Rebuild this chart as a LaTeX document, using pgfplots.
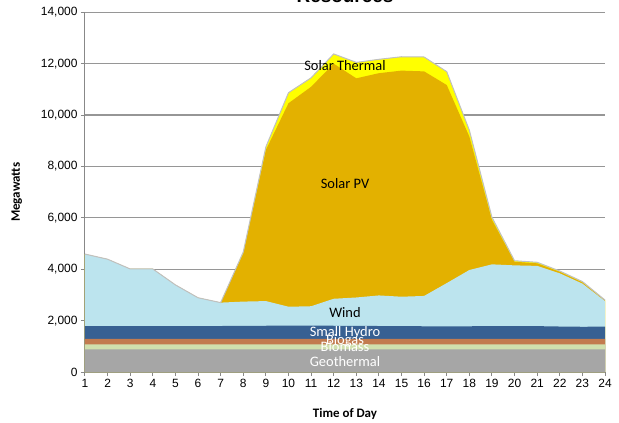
\documentclass[border=0pt]{standalone}
\usepackage{pgfplots}
\pgfplotsset{compat=1.18}
\usepackage{pgfplotstable}
\usepackage{fontspec}
\setmainfont{Liberation Sans}
\newfontfamily\calfont{Carlito}
\definecolor{cgeo}{HTML}{A6A6A6}
\definecolor{cbm}{HTML}{D0E0AE}
\definecolor{cbg}{HTML}{C27B4F}
\definecolor{chy}{HTML}{376092}
\definecolor{cwind}{HTML}{BCE4EE}
\definecolor{cpv}{HTML}{E3B100}
\definecolor{cst}{HTML}{FFFF00}
\definecolor{cgrid}{HTML}{969696}
\definecolor{caxis}{HTML}{888888}
\definecolor{cedge}{HTML}{C0C0C0}
\pgfplotstableread{
h geo bm bg hy wind pv st
1 880 200 210 500 2800 0 0
2 880 200 210 500 2600 0 0
3 880 200 210 500 2220 0 0
4 880 200 210 500 2220 0 0
5 880 200 210 495 1605 0 0
6 880 200 210 495 1105 0 0
7 880 200 210 500 910 0 0
8 880 200 210 505 945 1880 50
9 880 200 210 510 960 5880 120
10 880 200 210 515 735 7920 410
11 880 200 210 515 755 8540 350
12 880 200 210 510 1050 9150 380
13 880 200 210 505 1105 8530 620
14 880 200 210 500 1190 8650 540
15 880 200 210 495 1145 8800 540
16 880 200 210 490 1180 8740 560
17 880 200 210 490 1680 7710 520
18 880 200 210 490 2190 5190 250
19 880 200 210 495 2405 1730 100
20 880 200 210 500 2360 140 40
21 880 200 210 495 2345 100 40
22 880 200 210 480 2070 60 30
23 880 200 210 470 1680 50 30
24 880 200 210 475 995 30 10
}\data
\begin{document}
\begin{tikzpicture}
\begin{axis}[
  scale only axis, width=520bp, height=359.7bp,
  xmin=1, xmax=24, ymin=0, ymax=14000,
  xtick={1,...,24}, ytick={0,2000,...,14000},
  scaled y ticks=false,
  yticklabel style={/pgf/number format/.cd, 1000 sep={,}, assume math mode=true},
  xticklabel style={/pgf/number format/assume math mode=true},
  tick label style={font=\fontsize{12}{14}\selectfont, color=black},
  axis lines*=left,
  axis line style={color=caxis, line width=1bp},
  tick style={color=caxis, line width=1bp},
  tick align=outside, major tick length=4bp,
  ymajorgrids, grid style={color=cgrid, line width=1.2bp},
  xlabel={\calfont\bfseries\fontsize{13}{15}\selectfont Time of Day},
  ylabel={\calfont\bfseries\fontsize{13}{15}\selectfont Megawatts},
  every axis x label/.style={at={(axis description cs:0.5,-0.117)}, anchor=center},
  every axis y label/.style={at={(axis description cs:-0.131,0.5)}, anchor=center, rotate=90},
  clip=false,
]
\addplot[draw=none, fill=cst] table[x=h, y expr=\thisrow{geo}+\thisrow{bm}+\thisrow{bg}+\thisrow{hy}+\thisrow{wind}+\thisrow{pv}+\thisrow{st}] {\data} \closedcycle;
\addplot[draw=none, fill=cpv] table[x=h, y expr=\thisrow{geo}+\thisrow{bm}+\thisrow{bg}+\thisrow{hy}+\thisrow{wind}+\thisrow{pv}] {\data} \closedcycle;
\addplot[draw=none, fill=cwind] table[x=h, y expr=\thisrow{geo}+\thisrow{bm}+\thisrow{bg}+\thisrow{hy}+\thisrow{wind}] {\data} \closedcycle;
\addplot[draw=none, fill=chy] table[x=h, y expr=\thisrow{geo}+\thisrow{bm}+\thisrow{bg}+\thisrow{hy}] {\data} \closedcycle;
\addplot[draw=none, fill=cbg] table[x=h, y expr=\thisrow{geo}+\thisrow{bm}+\thisrow{bg}] {\data} \closedcycle;
\addplot[draw=none, fill=cbm] table[x=h, y expr=\thisrow{geo}+\thisrow{bm}] {\data} \closedcycle;
\addplot[draw=none, fill=cgeo] table[x=h, y=geo] {\data} \closedcycle;
\addplot[draw=cedge, line width=1bp, no markers] table[x=h, y expr=\thisrow{geo}+\thisrow{bm}+\thisrow{bg}+\thisrow{hy}+\thisrow{wind}+\thisrow{pv}+\thisrow{st}] {\data};
\node[font=\calfont\fontsize{14.5}{16}\selectfont] at (axis cs:12.5,11910) {Solar Thermal};
\node[font=\calfont\fontsize{14.5}{16}\selectfont] at (axis cs:12.5,7320) {Solar PV};
\node[font=\calfont\fontsize{14.5}{16}\selectfont] at (axis cs:12.5,2330) {Wind};
\node[font=\calfont\fontsize{14.5}{16}\selectfont, text=white] at (axis cs:12.5,1530) {Small Hydro};
\node[font=\calfont\fontsize{14.5}{16}\selectfont, text=white] at (axis cs:12.5,1220) {Biogas};
\node[font=\calfont\fontsize{14.5}{16}\selectfont, text=white] at (axis cs:12.5,980) {Biomass};
\node[font=\calfont\fontsize{14.5}{16}\selectfont, text=white] at (axis cs:12.5,420) {Geothermal};
\coordinate (sw) at (rel axis cs:0,0);
\coordinate (ne) at (rel axis cs:1,1);
\node[font=\bfseries\fontsize{19}{22}\selectfont, anchor=base] at ([yshift=10bp]rel axis cs:0.5,1) {Resources};
\end{axis}
\pgfresetboundingbox
\path[use as bounding box] ([shift={(-85bp,-51bp)}]sw) rectangle ([shift={(14bp,12.3bp)}]ne);
\end{tikzpicture}
\end{document}
